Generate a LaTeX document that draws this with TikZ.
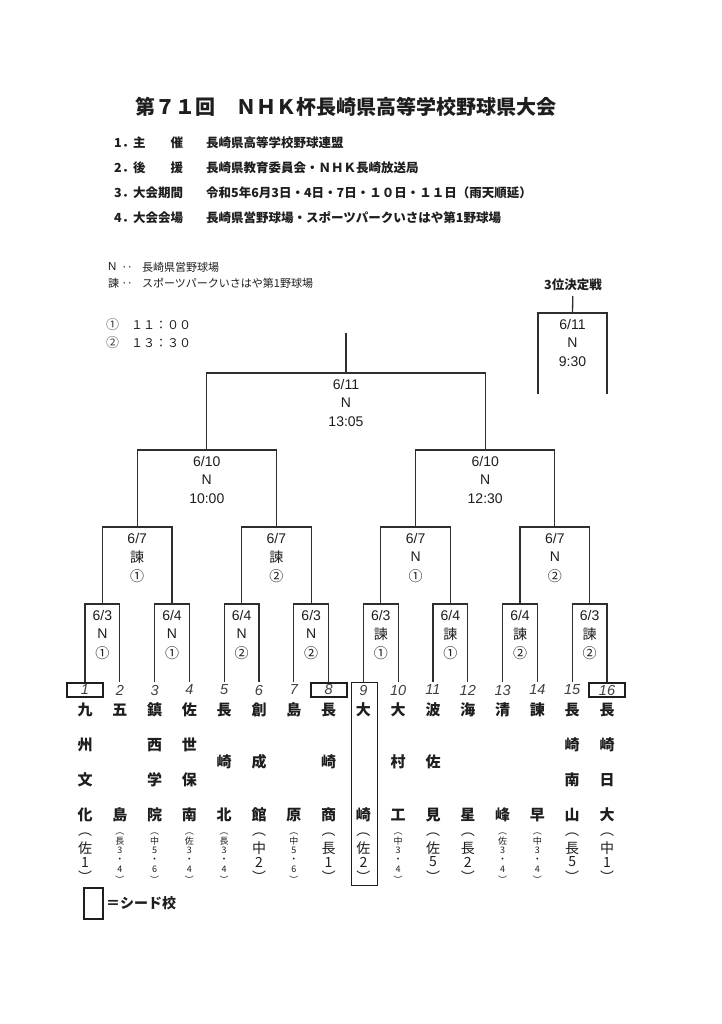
\documentclass[tikz,border=0pt]{standalone}
\usepackage{fontspec}
\setmainfont{Liberation Sans}
\newfontfamily\jp{Noto Sans CJK JP}
\definecolor{ink}{HTML}{1E1E1E}
\definecolor{linec}{HTML}{2E2E2E}
\newcommand\fsz[1]{\fontsize{#1bp}{#1bp}\selectfont}
\tikzset{
  mybr/.style={draw=linec, line width=1.3bp},
  mylbl/.style={inner sep=0, text=ink, font=\fsz{14}},
  myjl/.style={inner sep=0, text=ink, font=\jp\fsz{13.5}},
  mycirc/.style={inner sep=0, text=ink!85, font=\jp\fsz{13}},
  mynum/.style={inner sep=0, text=ink!85, font=\itshape\fsz{14.5}},
  myseed/.style={draw=ink, line width=2.2bp, minimum width=36bp, minimum height=14bp, inner sep=0},
  mych/.style={inner sep=0, text=ink, font=\jp\bfseries\fsz{15}},
  mypb/.style={inner sep=0, text=ink, font=\jp\fsz{14}},
  myps/.style={inner sep=0, text=ink, font=\jp\fsz{9}},
  myinfo/.style={inner sep=0, text=ink, anchor=west, font=\jp\bfseries\fsz{12.5}},
  myleg/.style={inner sep=0, text=ink, font=\jp\fsz{11}},
}
\newcommand\teamX[1]{\pgfmathsetmacro\tX{85+(#1-1)*34.8}}
\newcommand\tmfour[5]{\teamX{#1}%
  \node[mych] (t#1a) at (\tX,710) {#2};
  \node[mych] (t#1b) at (\tX,745) {#3};
  \node[mych] (t#1c) at (\tX,780) {#4};
  \node[mych] (t#1d) at (\tX,815) {#5};}
\newcommand\tmthree[4]{\teamX{#1}%
  \node[mych] (t#1a) at (\tX,710) {#2};
  \node[mych] (t#1b) at (\tX,762) {#3};
  \node[mych] (t#1d) at (\tX,815) {#4};}
\newcommand\tmtwo[3]{\teamX{#1}%
  \node[mych] (t#1a) at (\tX,710) {#2};
  \node[mych] (t#1d) at (\tX,815) {#3};}
\newcommand\pbig[3]{\teamX{#1}%
  \node[mypb] (q#1a) at (\tX,835) {︵};
  \node[mypb] (q#1b) at (\tX,848) {#2};
  \node[mypb] (q#1c) at (\tX,862) {#3};
  \node[mypb] (q#1d) at (\tX,877) {︶};}
\newcommand\psml[4]{\teamX{#1}%
  \node[myps] (q#1a) at (\tX,834) {︵};
  \node[myps] (q#1b) at (\tX,841) {#2};
  \node[myps] (q#1c) at (\tX,850) {#3};
  \node[myps] (q#1e) at (\tX,860) {・};
  \node[myps] (q#1f) at (\tX,869) {#4};
  \node[myps] (q#1d) at (\tX,880) {︶};}
\newcommand\mlab[4]{\path (#1) ++(0,11) node[mylbl] (#1d) {#2} ++(0,19) node[mylbl] (#1v) {#3} ++(0,19) node[mylbl] (#1t) {#4};}
\begin{document}
\begin{tikzpicture}[x=1bp,y=-1bp]
\fill[white] (0,0) rectangle (722,1024);
\useasboundingbox (0,0) rectangle (722,1024);

% title and info
\node[inner sep=0, text=ink, font=\jp\bfseries\fsz{20}] (title) at (346,107) {第７１回　ＮＨＫ杯長崎県高等学校野球県大会};
\node[myinfo] (i1n) at (114,143) {1．};
\node[myinfo] (i1l) at (133,143) {主　　催};
\node[myinfo] (i1c) at (206,143) {長崎県高等学校野球連盟};
\node[myinfo] (i2n) at (114,168) {2．};
\node[myinfo] (i2l) at (133,168) {後　　援};
\node[myinfo] (i2c) at (206,168) {長崎県教育委員会・ＮＨＫ長崎放送局};
\node[myinfo] (i3n) at (114,193) {3．};
\node[myinfo] (i3l) at (133,193) {大会期間};
\node[myinfo] (i3c) at (206,193) {令和5年6月3日・4日・7日・１０日・１１日（雨天順延）};
\node[myinfo] (i4n) at (114,218) {4．};
\node[myinfo] (i4l) at (133,218) {大会会場};
\node[myinfo] (i4c) at (206,218) {長崎県営野球場・スポーツパークいさはや第1野球場};

% legend
\node[myleg, font=\fsz{11.5}, anchor=west] (k1) at (108,267) {N};
\node[myleg] (k1d) at (127,269) {‥};
\node[myleg, anchor=west] (k1t) at (142,267) {長崎県営野球場};
\node[myleg, anchor=west] (k2) at (108,283) {諫};
\node[myleg] (k2d) at (127,285) {‥};
\node[myleg, anchor=west] (k2t) at (142,283) {スポーツパークいさはや第1野球場};
\node[mycirc] (c1) at (112.5,325) {①};
\node[myleg, font=\jp\fsz{12}, anchor=west] (c1t) at (131,325) {１１：００};
\node[mycirc] (c2) at (112.5,343) {②};
\node[myleg, font=\jp\fsz{12}, anchor=west] (c2t) at (131,343) {１３：３０};

% team numbers and seeds
\foreach \i in {1,...,16}{
  \pgfmathsetmacro\tX{85+(\i-1)*34.8}
  \node[mynum] (n\i) at (\tX,690) {\i};
  \coordinate (p\i) at (\tX,682);
}
\node[myseed] (s1) at (n1) {};
\node[myseed] (s8) at (n8) {};
\node[myseed] (s16) at (n16) {};
\node[draw=ink, line width=0.9bp, minimum width=26bp, minimum height=203bp, inner sep=0] (s9) at (364,783.5) {};

% match coordinates
\coordinate (r1m1) at (102.4,604);
\coordinate (r1m2) at (172,604);
\coordinate (r1m3) at (241.6,604);
\coordinate (r1m4) at (311.2,604);
\coordinate (r1m5) at (380.8,604);
\coordinate (r1m6) at (450.4,604);
\coordinate (r1m7) at (520,604);
\coordinate (r1m8) at (589.6,604);
\coordinate (r2m1) at (137.2,527);
\coordinate (r2m2) at (276.4,527);
\coordinate (r2m3) at (415.6,527);
\coordinate (r2m4) at (554.8,527);
\coordinate (r3m1) at (206.8,450);
\coordinate (r3m2) at (485.2,450);
\coordinate (fin) at (346,373);
\coordinate (champ) at (346,333);

% brackets
\draw[mybr] (p1) |- (r1m1) -| (p2);
\draw[mybr] (p3) |- (r1m2) -| (p4);
\draw[mybr] (p5) |- (r1m3) -| (p6);
\draw[mybr] (p7) |- (r1m4) -| (p8);
\draw[mybr] (p9) |- (r1m5) -| (p10);
\draw[mybr] (p11) |- (r1m6) -| (p12);
\draw[mybr] (p13) |- (r1m7) -| (p14);
\draw[mybr] (p15) |- (r1m8) -| (p16);
\draw[mybr] (r1m1) |- (r2m1) -| (r1m2);
\draw[mybr] (r1m3) |- (r2m2) -| (r1m4);
\draw[mybr] (r1m5) |- (r2m3) -| (r1m6);
\draw[mybr] (r1m7) |- (r2m4) -| (r1m8);
\draw[mybr] (r2m1) |- (r3m1) -| (r2m2);
\draw[mybr] (r2m3) |- (r3m2) -| (r2m4);
\draw[mybr] (r3m1) |- (fin) -| (r3m2);
\draw[mybr] (fin) -- (champ);

% third place
\node[inner sep=0, text=ink, font=\jp\bfseries\fsz{12.5}] (tpl) at (573,285) {3位決定戦};
\coordinate (tp) at (572.5,313);
\coordinate (tpa) at (538,394);
\coordinate (tpb) at (607,394);
\draw[mybr] (tpa) |- (tp) -| (tpb);
\draw[mybr, shorten <=5bp] (tpl) -- (tp);

% match labels
\mlab{r1m1}{6/3}{N}{\jp ①}
\mlab{r1m2}{6/4}{N}{\jp ①}
\mlab{r1m3}{6/4}{N}{\jp ②}
\mlab{r1m4}{6/3}{N}{\jp ②}
\mlab{r1m5}{6/3}{\jp 諫}{\jp ①}
\mlab{r1m6}{6/4}{\jp 諫}{\jp ①}
\mlab{r1m7}{6/4}{\jp 諫}{\jp ②}
\mlab{r1m8}{6/3}{\jp 諫}{\jp ②}
\mlab{r2m1}{6/7}{\jp 諫}{\jp ①}
\mlab{r2m2}{6/7}{\jp 諫}{\jp ②}
\mlab{r2m3}{6/7}{N}{\jp ①}
\mlab{r2m4}{6/7}{N}{\jp ②}
\mlab{r3m1}{6/10}{N}{10:00}
\mlab{r3m2}{6/10}{N}{12:30}
\mlab{fin}{6/11}{N}{13:05}
\mlab{tp}{6/11}{N}{9:30}

% team names
\tmfour{1}{九}{州}{文}{化}   \pbig{1}{佐}{1}
\tmtwo{2}{五}{島}           \psml{2}{長}{3}{4}
\tmfour{3}{鎮}{西}{学}{院}   \psml{3}{中}{5}{6}
\tmfour{4}{佐}{世}{保}{南}   \psml{4}{佐}{3}{4}
\tmthree{5}{長}{崎}{北}      \psml{5}{長}{3}{4}
\tmthree{6}{創}{成}{館}      \pbig{6}{中}{2}
\tmtwo{7}{島}{原}           \psml{7}{中}{5}{6}
\tmthree{8}{長}{崎}{商}      \pbig{8}{長}{1}
\tmtwo{9}{大}{崎}           \pbig{9}{佐}{2}
\tmthree{10}{大}{村}{工}     \psml{10}{中}{3}{4}
\tmthree{11}{波}{佐}{見}     \pbig{11}{佐}{5}
\tmtwo{12}{海}{星}          \pbig{12}{長}{2}
\tmtwo{13}{清}{峰}          \psml{13}{佐}{3}{4}
\tmtwo{14}{諫}{早}          \psml{14}{中}{3}{4}
\tmfour{15}{長}{崎}{南}{山}  \pbig{15}{長}{5}
\tmfour{16}{長}{崎}{日}{大}  \pbig{16}{中}{1}

% seed legend
\node[draw=ink, line width=2bp, minimum width=19bp, minimum height=31bp, inner sep=0] (sbox) at (93.5,903) {};
\node[inner sep=0, anchor=west, text=ink, font=\jp\bfseries\fsz{14}] (stext) at (106,903) {＝シード校};
\end{tikzpicture}
\end{document}
